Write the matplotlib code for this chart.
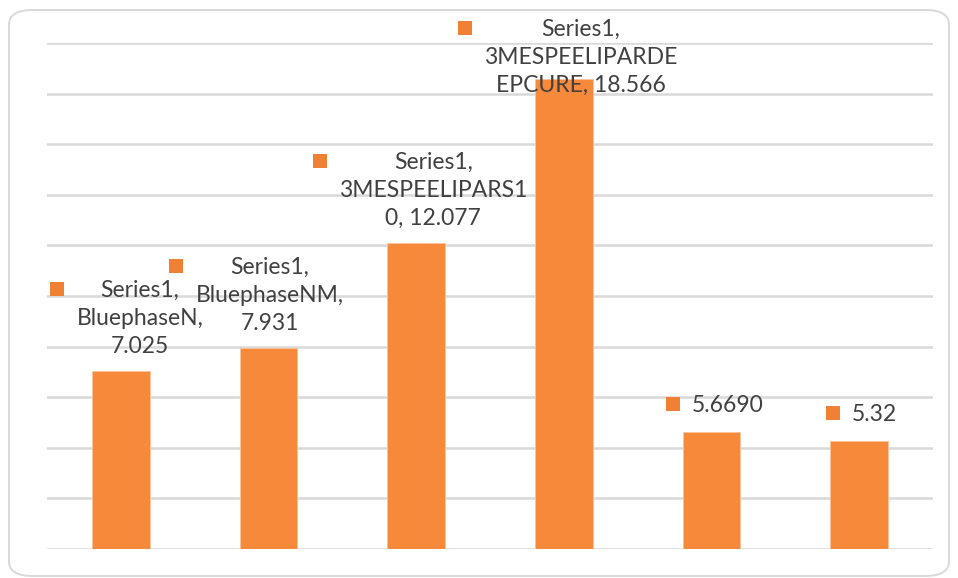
import matplotlib.pyplot as plt
import numpy as np
from matplotlib.patches import FancyBboxPatch, Rectangle

# bar heights as drawn, and the data labels as printed on the chart
VALUES = [7.025, 7.931, 12.077, 18.566, 4.63, 4.27]
LABELS = [
    "Series1,\nBluephaseN,\n7.025",
    "Series1,\nBluephaseNM,\n7.931",
    "Series1,\n3MESPEELIPARS1\n0, 12.077",
    "Series1,\n3MESPEELIPARDE\nEPCURE, 18.566",
    "5.6690",
    "5.32",
]
# label offsets from the bar top, in pixels
LABEL_DX = [19, 1, 17, 17, 16, 15]
LABEL_DY = [53, 53, 53, 22, 26, 26]

BAR = "#F68A3A"
KEY = "#EF8034"
GRID = "#D9D9D9"
TEXT = "#404040"

plt.rcParams["font.family"] = ["Lato", "DejaVu Sans"]

fig = plt.figure(figsize=(9.58, 5.78), dpi=100)
W, H = 958, 578
ax = fig.add_axes([47 / W, 29 / H, 886 / W, 506 / H])

xs = np.arange(len(VALUES))
ax.bar(xs, VALUES, width=0.39, color=BAR, edgecolor="#FBC39A", linewidth=0.6, zorder=3)
ax.set_xlim(-0.5, len(VALUES) - 0.5)
ax.set_ylim(0, 20)
ax.set_yticks(np.arange(0, 21, 2))
ax.set_xticks([])
ax.grid(axis="y", color=GRID, linewidth=1.8, zorder=0)
ax.tick_params(left=False, labelleft=False, bottom=False)
for s in ax.spines.values():
    s.set_visible(False)

texts = []
for i, (v, lab) in enumerate(zip(VALUES, LABELS)):
    t = ax.annotate(
        lab,
        xy=(i, v),
        xytext=(LABEL_DX[i] * 0.72, LABEL_DY[i] * 0.72),
        textcoords="offset points",
        ha="center",
        va="center",
        fontsize=16.5,
        color=TEXT,
        linespacing=1.42,
        zorder=5,
    )
    texts.append(t)

# legend-key squares to the left of each label, level with its first line
fig.canvas.draw()
renderer = fig.canvas.get_renderer()
for t in texts:
    bb = t.get_window_extent(renderer)
    cx = bb.x0 - 19
    cy = bb.y1 - 9
    fig.patches.append(
        Rectangle(
            ((cx - 7) / W, (cy - 7) / H),
            14 / W,
            14 / H,
            transform=fig.transFigure,
            facecolor=KEY,
            edgecolor="none",
            zorder=6,
        )
    )

# rounded chart border
fig.patches.append(
    FancyBboxPatch(
        (9 / W, 2 / H),
        940 / W,
        566 / H,
        boxstyle="round,pad=0,rounding_size=0.025",
        transform=fig.transFigure,
        facecolor="none",
        edgecolor=GRID,
        linewidth=1.4,
    )
)

fig.savefig("out.png", dpi=100)
